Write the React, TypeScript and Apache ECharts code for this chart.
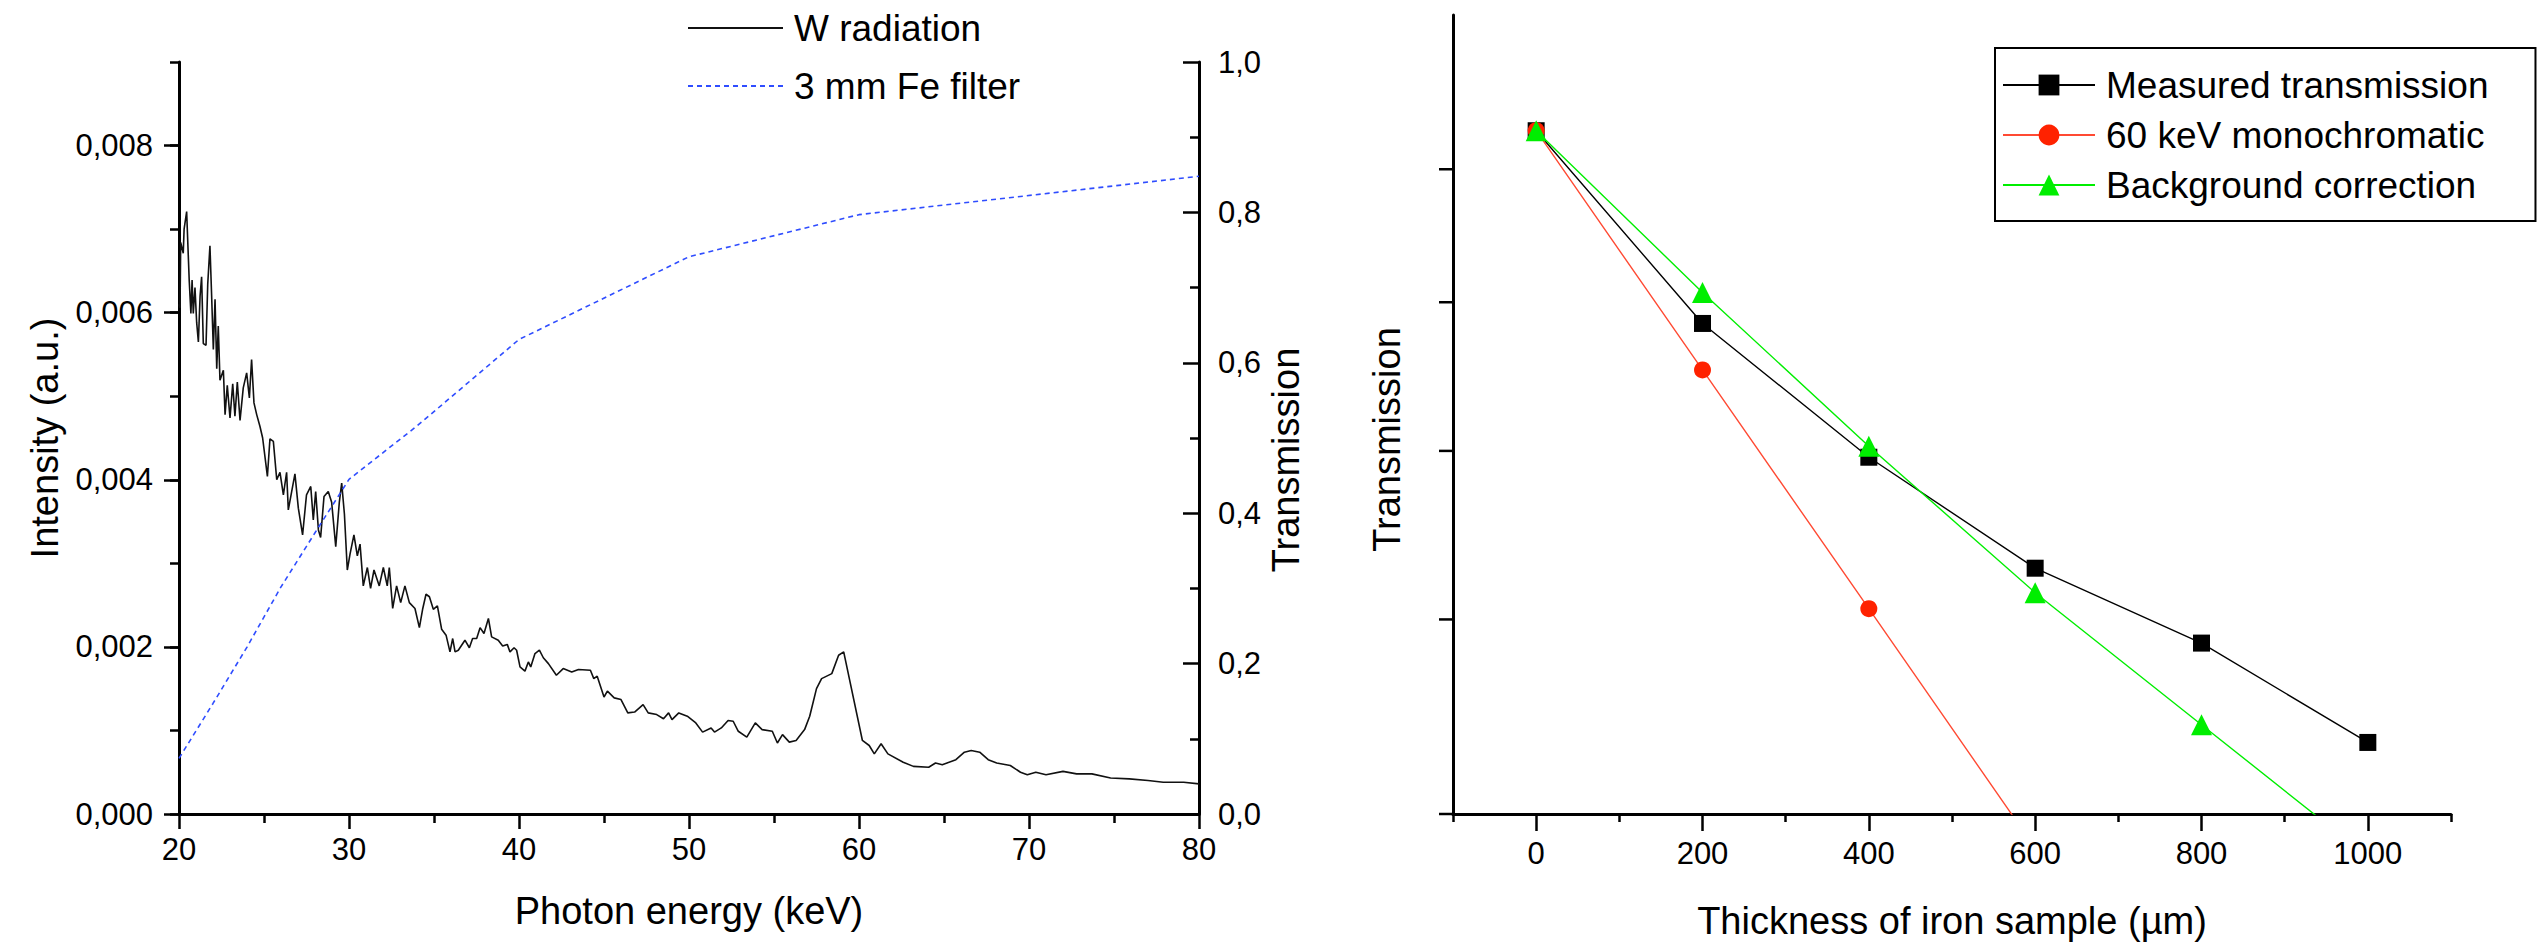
import React, { useEffect, useRef } from 'react';
import * as echarts from 'echarts';

// ---- Left chart: W radiation spectrum (keV, intensity a.u.) ----
const energy = [
  20.0, 20.06, 20.1, 20.25, 20.3, 20.45, 20.6, 20.7, 20.77, 20.84, 20.94, 21.04, 21.14, 21.24, 21.33, 21.43,
  21.59, 21.69, 21.82, 21.92, 22.02, 22.12, 22.22, 22.31, 22.41, 22.61, 22.71, 22.84, 23.0, 23.16, 23.29, 23.43,
  23.59, 23.78, 23.98, 24.14, 24.27, 24.41, 24.57, 24.76, 24.92, 25.2, 25.35, 25.55, 25.75, 25.94, 26.14, 26.33,
  26.43, 26.63, 26.82, 27.02, 27.27, 27.5, 27.75, 27.9, 28.04, 28.2, 28.33, 28.53, 28.78, 28.98, 29.22, 29.43,
  29.57, 29.73, 29.9, 30.06, 30.29, 30.49, 30.65, 30.84, 31.08, 31.27, 31.47, 31.78, 32.02, 32.25, 32.37, 32.57,
  32.8, 33.04, 33.29, 33.55, 33.88, 34.14, 34.33, 34.53, 34.73, 34.96, 35.2, 35.45, 35.71, 35.94, 36.1, 36.24,
  36.43, 36.82, 37.08, 37.27, 37.51, 37.71, 37.94, 38.2, 38.39, 38.78, 39.04, 39.31, 39.47, 39.71, 39.86, 40.06,
  40.35, 40.55, 40.69, 40.94, 41.2, 41.43, 41.73, 42.2, 42.6, 43.1, 43.5, 44.2, 44.4, 44.6, 45.0, 45.2,
  45.6, 46.0, 46.4, 46.8, 47.3, 47.6, 48.1, 48.5, 48.8, 49.0, 49.4, 49.9, 50.4, 50.8, 51.3, 51.5,
  51.9, 52.3, 52.6, 52.9, 53.4, 53.9, 54.3, 54.9, 55.2, 55.5, 55.9, 56.3, 56.8, 57.1, 57.5, 57.8,
  58.4, 58.8, 59.1, 60.2, 60.6, 60.9, 61.3, 61.7, 62.6, 63.2, 64.1, 64.5, 64.9, 65.7, 66.2, 66.6,
  67.1, 67.6, 68.1, 68.9, 69.5, 69.9, 70.4, 71.0, 72.0, 72.8, 73.7, 74.8, 75.9, 77.0, 77.9, 79.1, 80.0
];
const intensity = [
  0.00610, 0.00606, 0.00684, 0.00671, 0.00700, 0.00721, 0.00639, 0.00599, 0.00639, 0.00599, 0.00630, 0.00588, 0.00565, 0.00620, 0.00643, 0.00563,
  0.00561, 0.00634, 0.00680, 0.00620, 0.00556, 0.00616, 0.00533, 0.00584, 0.00519, 0.00531, 0.00478, 0.00513, 0.00474, 0.00515, 0.00476, 0.00517,
  0.00471, 0.00510, 0.00528, 0.00498, 0.00544, 0.00492, 0.00478, 0.00464, 0.00450, 0.00404, 0.00449, 0.00446, 0.00400, 0.00409, 0.00382, 0.00409,
  0.00364, 0.00386, 0.00407, 0.00366, 0.00334, 0.00382, 0.00392, 0.00352, 0.00386, 0.00340, 0.00331, 0.00380, 0.00386, 0.00373, 0.00320, 0.00373,
  0.00396, 0.00359, 0.00292, 0.00311, 0.00334, 0.00309, 0.00323, 0.00273, 0.00295, 0.00270, 0.00292, 0.00273, 0.00295, 0.00273, 0.00295, 0.00246,
  0.00273, 0.00253, 0.00273, 0.00253, 0.00246, 0.00223, 0.00245, 0.00263, 0.00260, 0.00245, 0.00249, 0.00221, 0.00214, 0.00194, 0.00210, 0.00194,
  0.00196, 0.00208, 0.00199, 0.00210, 0.00210, 0.00223, 0.00216, 0.00234, 0.00212, 0.00208, 0.00201, 0.00203, 0.00194, 0.00199, 0.00196, 0.00176,
  0.00171, 0.00182, 0.00176, 0.00192, 0.00196, 0.00187, 0.00180, 0.00166, 0.00174, 0.00170, 0.00173, 0.00172, 0.00162, 0.00165, 0.00140, 0.00147,
  0.00139, 0.00137, 0.00121, 0.00122, 0.00131, 0.00121, 0.00119, 0.00114, 0.00121, 0.00113, 0.00121, 0.00117, 0.00109, 0.00098, 0.00103, 0.00098,
  0.00103, 0.00112, 0.00111, 0.00099, 0.00092, 0.00109, 0.00101, 0.00099, 0.00085, 0.00095, 0.00086, 0.00088, 0.00101, 0.00117, 0.00150, 0.00162,
  0.00168, 0.00190, 0.00194, 0.00088, 0.00082, 0.00072, 0.00084, 0.00072, 0.00062, 0.00057, 0.00056, 0.00061, 0.00059, 0.00065, 0.00074, 0.00076,
  0.00074, 0.00065, 0.00061, 0.00058, 0.00050, 0.00047, 0.00050, 0.00047, 0.00051, 0.00048, 0.00048, 0.00043, 0.00042, 0.00040, 0.00038, 0.00038, 0.00036
];
const filterEnergy = [20, 22, 24, 26, 28, 30, 34, 40, 50, 60, 80];
const filterTransmission = [0.074, 0.147, 0.222, 0.302, 0.374, 0.445, 0.516, 0.631, 0.741, 0.797, 0.848];

const energyAxis = { min: 20, max: 80, interval: 10 };
const intensityMajorTicks = [0, 0.002, 0.004, 0.006, 0.008];
const intensityAxis = { min: 0, max: 0.009, minorInterval: 0.001 };
const transmissionAxis = { min: 0, max: 1.0, interval: 0.2 };

// ---- Right chart: transmission vs iron thickness ----
const thickness = [0, 200, 400, 600, 800, 1000];
const measured = [1.031, 0.885, 0.796, 0.729, 0.687, 0.635];
const monoThickness = [0, 200, 400, 600];
const mono = [1.031, 0.853, 0.706, 0.584];
const bgThickness = [0, 200, 400, 600, 800, 1000];
const background = [1.031, 0.907, 0.803, 0.715, 0.644, 0.580];
const thicknessMajorTicks = [0, 200, 400, 600, 800, 1000];
const thicknessAxis = { min: -100, max: 1100, minorInterval: 200 };
const logTransmissionTicks = [0.6, 0.7, 0.8, 0.9, 1.0];
const logAxis = { min: 0.6, max: 1.13 };

const FONT = '"Liberation Sans", Arial, sans-serif';
const AXIS_LINE = { show: true, onZero: false, lineStyle: { color: '#000', width: 3 } };

export default function App() {
  const ref = useRef<HTMLDivElement>(null);
  useEffect(() => {
    if (!ref.current) return;
    const chart = echarts.init(ref.current, undefined, { renderer: 'svg' });
    const comma = (d: number) => (v: number) => v.toFixed(d).replace('.', ',');
    const option: any = {
      animation: false,
      backgroundColor: '#fff',
      textStyle: { fontFamily: FONT, color: '#000' },
      grid: [
        { left: 179, top: 62, width: 1020, height: 752, containLabel: false },
        { left: 1453, top: 15, width: 998, height: 805, containLabel: false }
      ],
      legend: [
        {
          orient: 'vertical', left: 687, top: 8, padding: 0, itemGap: 18,
          itemWidth: 95, itemHeight: 14,
          data: ['W radiation', '3 mm Fe filter'],
          itemStyle: { opacity: 0, borderWidth: 0 },
          textStyle: { fontSize: 37, lineHeight: 40, color: '#000', fontFamily: FONT, padding: [0, 0, 0, 6] }
        },
        {
          orient: 'vertical', left: 1995, top: 48, padding: [17, 47, 16, 7], itemGap: 10,
          itemWidth: 92, itemHeight: 26,
          borderColor: '#000', borderWidth: 2,
          data: ['Measured transmission', '60 keV monochromatic', 'Background correction'],
          textStyle: { fontSize: 37, lineHeight: 40, color: '#000', fontFamily: FONT, padding: [0, 0, 0, 6] }
        }
      ],
      xAxis: [
        {
          gridIndex: 0, type: 'value', min: energyAxis.min, max: energyAxis.max, interval: energyAxis.interval,
          axisLine: AXIS_LINE,
          axisTick: { show: true, length: 15, lineStyle: { color: '#000', width: 2.5 } },
          minorTick: { show: true, splitNumber: 2, length: 9, lineStyle: { color: '#000', width: 2.5 } },
          axisLabel: { fontSize: 31, margin: 20, color: '#000', fontFamily: FONT },
          splitLine: { show: false },
          name: 'Photon energy (keV)', nameLocation: 'middle', nameGap: 78,
          nameTextStyle: { fontSize: 38, color: '#000', fontFamily: FONT }
        },
        {
          gridIndex: 1, type: 'value', position: 'bottom', min: thicknessAxis.min, max: thicknessAxis.max,
          axisLine: AXIS_LINE,
          axisTick: { show: true, length: 17, customValues: thicknessMajorTicks, lineStyle: { color: '#000', width: 2.5 } },
          axisLabel: {
            fontSize: 31, margin: 24, color: '#000', fontFamily: FONT, customValues: thicknessMajorTicks,
            formatter: (v: number) => String(Math.round(v))
          },
          splitLine: { show: false },
          name: 'Thickness of iron sample (µm)', nameLocation: 'middle', nameGap: 88,
          nameTextStyle: { fontSize: 38, color: '#000', fontFamily: FONT }
        },
        {
          gridIndex: 1, type: 'value', position: 'bottom', offset: 0,
          min: thicknessAxis.min, max: thicknessAxis.max, interval: thicknessAxis.minorInterval,
          axisLine: { show: false, onZero: false },
          axisTick: { show: true, length: 8, lineStyle: { color: '#000', width: 2.5 } },
          axisLabel: { show: false },
          splitLine: { show: false }
        }
      ],
      yAxis: [
        {
          gridIndex: 0, type: 'value', position: 'left', min: intensityAxis.min, max: intensityAxis.max,
          interval: intensityAxis.minorInterval,
          axisLine: AXIS_LINE,
          axisTick: { show: true, length: 9, lineStyle: { color: '#000', width: 2.5 } },
          axisLabel: { show: false },
          splitLine: { show: false }
        },
        {
          gridIndex: 0, type: 'value', position: 'left', offset: 0, min: intensityAxis.min, max: intensityAxis.max,
          axisLine: { show: false, onZero: false },
          axisTick: { show: true, length: 15, customValues: intensityMajorTicks, lineStyle: { color: '#000', width: 2.5 } },
          axisLabel: { fontSize: 31, margin: 26, color: '#000', fontFamily: FONT, customValues: intensityMajorTicks, formatter: comma(3) },
          splitLine: { show: false },
          name: 'Intensity (a.u.)', nameLocation: 'middle', nameGap: 115, nameRotate: 90,
          nameTextStyle: { fontSize: 38, color: '#000', fontFamily: FONT }
        },
        {
          gridIndex: 0, type: 'value', position: 'right', min: transmissionAxis.min, max: transmissionAxis.max,
          interval: transmissionAxis.interval,
          axisLine: AXIS_LINE,
          axisTick: { show: true, inside: true, length: 16, lineStyle: { color: '#000', width: 2.5 } },
          minorTick: { show: true, splitNumber: 2, length: 9, lineStyle: { color: '#000', width: 2.5 } },
          axisLabel: { fontSize: 31, margin: 19, color: '#000', fontFamily: FONT, formatter: comma(1) },
          splitLine: { show: false },
          name: 'Transmission', nameLocation: 'middle', nameGap: 68, nameRotate: 90,
          nameTextStyle: { fontSize: 38, color: '#000', fontFamily: FONT, padding: [0, 44, 0, 0] }
        },
        {
          gridIndex: 1, type: 'log', logBase: 10, position: 'left', min: logAxis.min, max: logAxis.max,
          axisLine: AXIS_LINE,
          axisTick: { show: false },
          axisLabel: { show: false },
          splitLine: { show: false },
          name: 'Transmission', nameLocation: 'middle', nameGap: 47, nameRotate: 90,
          nameTextStyle: { fontSize: 38, color: '#000', fontFamily: FONT, padding: [0, 50, 0, 0] }
        }
      ],
      series: [
        {
          name: 'W radiation', type: 'line', xAxisIndex: 0, yAxisIndex: 0,
          data: energy.map((e, i) => [e, intensity[i]]),
          showSymbol: false, symbol: 'none', color: '#111',
          lineStyle: { color: '#111', width: 1.6 }
        },
        {
          name: '3 mm Fe filter', type: 'line', xAxisIndex: 0, yAxisIndex: 2,
          data: filterEnergy.map((e, i) => [e, filterTransmission[i]]),
          showSymbol: false, symbol: 'none', color: '#2f4dff',
          lineStyle: { color: '#2f4dff', width: 1.6, type: [5, 4] }
        },
        {
          name: 'Measured transmission', type: 'line', xAxisIndex: 1, yAxisIndex: 3,
          data: thickness.map((t, i) => [t, measured[i]]),
          symbol: 'rect', symbolSize: 17, color: '#000',
          itemStyle: { color: '#000' }, lineStyle: { color: '#000', width: 1.4 }
        },
        {
          name: '60 keV monochromatic', type: 'line', xAxisIndex: 1, yAxisIndex: 3,
          data: monoThickness.map((t, i) => [t, mono[i]]),
          symbol: 'circle', symbolSize: 17, color: '#ff2200',
          itemStyle: { color: '#ff2200' }, lineStyle: { color: '#ff4a33', width: 1.4 }
        },
        {
          name: 'Background correction', type: 'line', xAxisIndex: 1, yAxisIndex: 3,
          data: bgThickness.map((t, i) => [t, background[i]]),
          symbol: 'triangle', symbolSize: 21, color: '#00ee00',
          itemStyle: { color: '#00ee00' }, lineStyle: { color: '#00ee00', width: 1.4 }
        },
        {
          name: 'logTicks', type: 'custom', xAxisIndex: 1, yAxisIndex: 3, silent: true, clip: false,
          data: logTransmissionTicks.map((v) => [thicknessAxis.min, v]),
          encode: { x: 0, y: 1 },
          renderItem: (params: any, api: any) => {
            const p = api.coord([api.value(0), api.value(1)]);
            return {
              type: 'line',
              shape: { x1: p[0] - 14, y1: p[1], x2: p[0], y2: p[1] },
              style: { stroke: '#000', lineWidth: 2.5 }
            };
          }
        }
      ]
    };
    chart.setOption(option);
    return () => chart.dispose();
  }, []);
  return (
    <div
      ref={ref}
      style={{ position: 'absolute', left: 0, top: 0, width: 2542, height: 945, background: '#fff' }}
    />
  );
}
